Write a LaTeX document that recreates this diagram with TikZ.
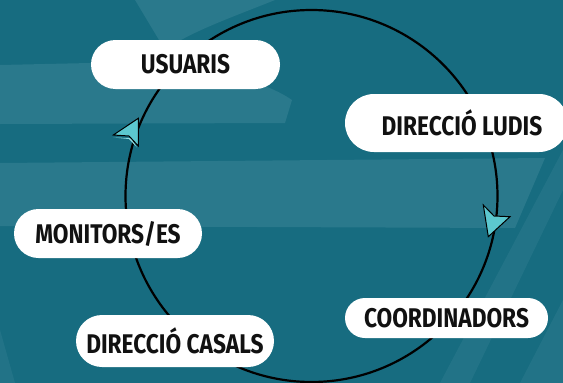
\documentclass[tikz,border=0pt]{standalone}
\usepackage{fontspec}
\newfontfamily\lblfont{Fira Sans}[FakeStretch=0.84]
\usetikzlibrary{shapes.misc}
\definecolor{bgteal}{HTML}{176C80}
\definecolor{bglight}{HTML}{2A798C}
\definecolor{arrowcyan}{HTML}{5CC8CF}
\definecolor{arrowshade}{HTML}{8FDCE0}
\definecolor{textdark}{HTML}{111111}
\begin{document}
\begin{tikzpicture}[x=1pt,y=-1pt,
  pill/.style={rounded rectangle, fill=white, inner sep=0pt,
    font=\lblfont\bfseries\fontsize{27}{27}\selectfont, text=textdark},
  navarrow/.style={fill=arrowcyan, draw=black, line width=1pt, line join=miter},
  navshade/.style={fill=arrowshade}]
\useasboundingbox (0,0) rectangle (563,383);
\fill[bgteal] (0,0) rectangle (563,383);
% faint background shapes
\begin{scope}
\clip (0,0) rectangle (563,383);
\fill[bglight] (0,65) -- (90,63) .. controls (190,60) and (260,78) .. (292,100) -- (285,123) -- (0,124) -- cycle;
\fill[bglight] (135,0) -- (275,0) .. controls (230,18) and (190,32) .. (165,50) -- cycle;
\fill[bglight] (0,163) -- (545,158) -- (515,228) -- (0,226) -- cycle;
\fill[bglight, opacity=0.6] (563,150) -- (563,190) -- (470,383) -- (440,383) -- cycle;
\fill[bglight, opacity=0.6] (563,300) -- (563,383) -- (520,383) -- cycle;
\fill[bglight, opacity=0.6] (0,330) -- (15,383) -- (0,383) -- cycle;
\end{scope}
% cycle ring
\node[draw=black, circle, line width=2.2pt, minimum size=372pt, inner sep=0pt] (ring) at (311.5,196) {};
% labels
\node[pill, minimum width=189pt, minimum height=49pt] (usuaris) at (185.5,64.5) {USUARIS};
\node[pill, minimum width=223pt, minimum height=58pt] (ludis) at (456.5,123) {\hspace*{11pt}DIRECCIÓ LUDIS};
\node[pill, minimum width=188pt, minimum height=49pt] (monitors) at (108,233.5) {MONITORS/ES};
\node[pill, minimum width=198pt, minimum height=52pt] (casals) at (175,341) {DIRECCIÓ CASALS};
\node[pill, minimum width=203pt, minimum height=40pt] (coord) at (446.5,318) {COORDINADORS};
% arrowheads on the ring
\coordinate (arrL) at (129,136);
\coordinate (arrR) at (494,216);
\fill[navshade] (113.3,137.5) -- (129,139) -- (137,147.5) -- (131,138) -- cycle;
\draw[navarrow] (138.3,118.3) -- (113.3,135) -- (arrL) -- (138.3,146) -- cycle;
\draw[navarrow] (488.3,236.7) -- (483.3,205) -- (arrR) -- (510,216.7) -- cycle;
\end{tikzpicture}
\end{document}
